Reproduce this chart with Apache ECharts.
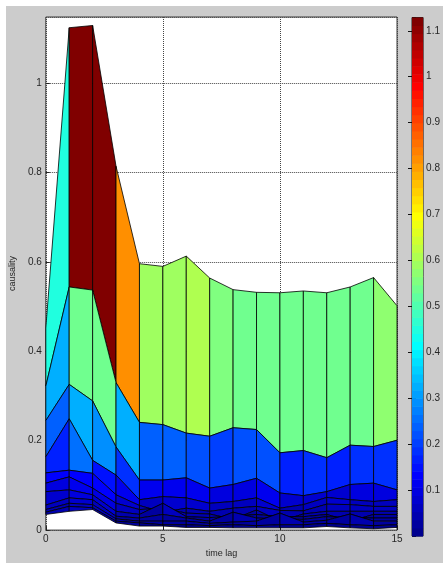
<!DOCTYPE html>
<html><head><meta charset="utf-8">
<script src="https://cdn.jsdelivr.net/npm/echarts@6/dist/echarts.min.js"></script>
<style>
html,body{margin:0;padding:0;background:#fff;}
#bg{position:absolute;left:6px;top:6px;width:437px;height:557px;background:#cccccc;}
#c{position:absolute;left:0;top:0;width:443px;height:563px;}
</style>
</head><body><div id="bg"></div><div id="c"></div>
<script>
// time lags (x categories)
const lags = [0,1,2,3,4,5,6,7,8,9,10,11,12,13,14,15];
// causality curves (one row of the surface each), top to bottom
const layer1  = [0.452,1.124,1.129,0.814,0.596,0.590,0.613,0.564,0.538,0.532,0.531,0.535,0.531,0.544,0.565,0.502];
const layer2  = [0.322,0.544,0.537,0.330,0.241,0.236,0.217,0.210,0.229,0.225,0.173,0.178,0.162,0.190,0.187,0.201];
const layer3  = [0.245,0.326,0.289,0.186,0.112,0.112,0.117,0.094,0.102,0.116,0.083,0.077,0.086,0.102,0.105,0.090];
const layer4  = [0.164,0.249,0.156,0.123,0.068,0.075,0.072,0.060,0.064,0.072,0.049,0.057,0.073,0.068,0.064,0.068];
const layer5  = [0.128,0.134,0.127,0.079,0.055,0.040,0.049,0.042,0.049,0.053,0.044,0.043,0.058,0.057,0.053,0.053];
const layer6  = [0.105,0.119,0.094,0.060,0.046,0.049,0.038,0.036,0.024,0.045,0.020,0.036,0.042,0.042,0.042,0.042];
const layer7  = [0.086,0.090,0.079,0.042,0.035,0.060,0.030,0.028,0.031,0.035,0.030,0.030,0.035,0.020,0.035,0.035];
const layer8  = [0.056,0.072,0.068,0.031,0.027,0.035,0.027,0.020,0.040,0.027,0.025,0.024,0.030,0.028,0.027,0.027];
const layer9  = [0.046,0.060,0.057,0.025,0.020,0.020,0.020,0.015,0.018,0.020,0.038,0.018,0.022,0.036,0.020,0.020];
const layer10 = [0.040,0.053,0.050,0.020,0.016,0.012,0.012,0.010,0.012,0.010,0.012,0.012,0.015,0.012,0.010,0.012];
const layer11 = [0.035,0.042,0.046,0.016,0.009,0.009,0.006,0.006,0.005,0.005,0.005,0.005,0.008,0.005,0.003,0.006];
const curves = [layer1,layer2,layer3,layer4,layer5,layer6,layer7,layer8,layer9,layer10,layer11];
// axis ticks
const xTicks = [0,5,10,15];
const yTicks = [0,0.2,0.4,0.6,0.8,1];
const cbTicks = [0.1,0.2,0.3,0.4,0.5,0.6,0.7,0.8,0.9,1,1.1];

const cmin = 0;
const cmax = Math.max(...curves.flat());
const NC = 64;
// MATLAB jet(64)
function jetIdx(i){ // i: 0..63
  const n=16, u=[];
  for(let k=1;k<=n;k++) u.push(k/n);
  for(let k=0;k<n-1;k++) u.push(1);
  for(let k=n;k>=1;k--) u.push(k/n);
  const I=i+1;
  const gi=I-8, ri=I-24, bi=I+8;
  const g=(gi>=1&&gi<=u.length)?u[gi-1]:0;
  const r=(ri>=1&&ri<=u.length)?u[ri-1]:0;
  const b=(bi>=1&&bi<=u.length)?u[bi-1]:0;
  return 'rgb('+Math.round(r*255)+','+Math.round(g*255)+','+Math.round(b*255)+')';
}
function jet(v){
  let i=Math.floor((v-cmin)/(cmax-cmin)*NC);
  if(i<0)i=0; if(i>NC-1)i=NC-1;
  return jetIdx(i);
}

const patches=[];
for(let k=0;k<curves.length-1;k++){
  for(let j=0;j<lags.length-1;j++){
    patches.push([lags[j],lags[j+1],curves[k][j],curves[k][j+1],curves[k+1][j],curves[k+1][j+1]]);
  }
}
const cbCells=[];
for(let i=0;i<NC;i++) cbCells.push([i]);

const txt='#262626';
const fontFam='Liberation Sans, Arial, sans-serif';
const chart=echarts.init(document.getElementById('c'),null,{renderer:'canvas'});
chart.setOption({
  animation:false,
  backgroundColor:'transparent',
  grid:[
    {left:45,top:17,width:352,bottom:27.4,show:true,backgroundColor:'#fff',borderColor:'#3a3a3a',borderWidth:1},
    {left:412,top:17.5,width:19,bottom:27,show:true,backgroundColor:'transparent',borderColor:'#222',borderWidth:1}
  ],
  xAxis:[
    {gridIndex:0,type:'value',min:0,max:15,interval:5,
     name:'time lag',nameLocation:'middle',nameGap:16,
     nameTextStyle:{color:txt,fontSize:9,fontFamily:fontFam},
     axisLine:{show:false},
     axisTick:{inside:true,length:4,lineStyle:{color:'#222'}},
     axisLabel:{color:txt,fontSize:10,fontFamily:fontFam,margin:4},
     splitLine:{show:true,lineStyle:{type:'dotted',color:'#444',width:1}}},
    {gridIndex:1,type:'value',min:0,max:1,show:false}
  ],
  yAxis:[
    {gridIndex:0,type:'value',min:0,max:1.148,interval:0.2,
     name:'causality',nameLocation:'middle',nameGap:20,nameRotate:90,
     nameTextStyle:{color:txt,fontSize:9,fontFamily:fontFam},
     axisLine:{show:false},
     axisTick:{inside:true,length:4,lineStyle:{color:'#222'}},
     axisLabel:{color:txt,fontSize:10,fontFamily:fontFam,margin:4,showMaxLabel:false},
     splitLine:{show:true,lineStyle:{type:'dotted',color:'#444',width:1}}},
    {gridIndex:1,type:'value',position:'right',min:0,max:cmax,interval:0.1,
     axisLine:{show:false},
     axisTick:{inside:true,length:4,lineStyle:{color:'#111'}},
     axisLabel:{color:txt,fontSize:10,fontFamily:fontFam,margin:3,showMinLabel:false,showMaxLabel:false,
       formatter:v=>{const r=Math.round(v*10)/10; return (cbTicks.indexOf(r)>=0)?String(r):'';}},
     splitLine:{show:false}},
    {gridIndex:1,type:'value',position:'left',min:0,max:cmax,interval:0.1,
     axisLine:{show:false},
     axisTick:{inside:true,length:4,lineStyle:{color:'#111'}},
     axisLabel:{show:false},splitLine:{show:false}}
  ],
  series:[
    {type:'custom',xAxisIndex:0,yAxisIndex:0,data:patches,clip:true,
     renderItem:(params,api)=>{
       const x0=api.value(0),x1=api.value(1),t0=api.value(2),t1=api.value(3),b0=api.value(4),b1=api.value(5);
       const pts=[api.coord([x0,t0]),api.coord([x1,t1]),api.coord([x1,b1]),api.coord([x0,b0])];
       return {type:'polygon',shape:{points:pts},style:{fill:jet(t0),stroke:'#000',lineWidth:0.8}};
     }},
    {type:'custom',xAxisIndex:1,yAxisIndex:1,data:cbCells,
     renderItem:(params,api)=>{
       const i=api.value(0);
       const lo=cmin+i*(cmax-cmin)/NC, hi=cmin+(i+1)*(cmax-cmin)/NC;
       const a=api.coord([0,hi]), b=api.coord([1,lo]);
       return {type:'rect',shape:{x:a[0],y:a[1],width:b[0]-a[0],height:b[1]-a[1]+0.5},style:{fill:jetIdx(i)}};
     }}
  ]
});
</script></body></html>
